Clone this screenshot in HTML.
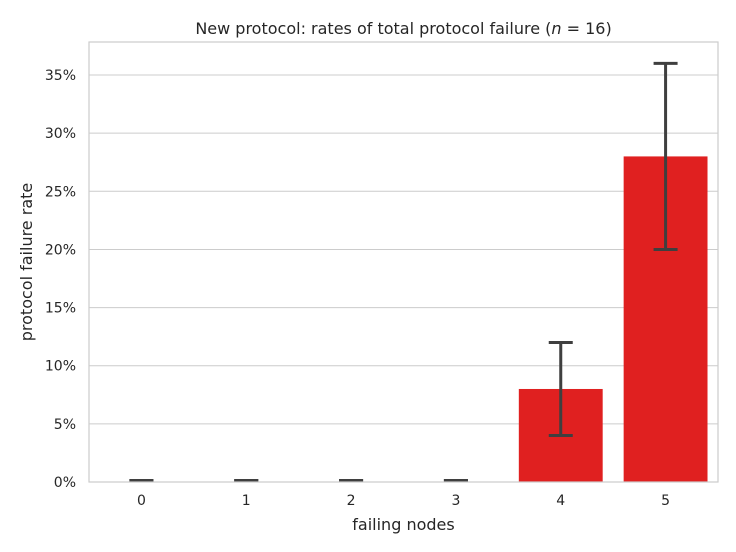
<!DOCTYPE html>
<html><head><meta charset="utf-8"><style>
body{margin:0;background:#fff;}
svg{display:block;font-family:"DejaVu Sans","Liberation Sans",sans-serif;}
</style></head><body>
<svg id="c" width="736" height="552" viewBox="0 0 736 552"></svg>
<script>
const categories=["0","1","2","3","4","5"];
const values=[0,0,0,0,8,28];
const errLow=[0,0,0,0,4,20];
const errHigh=[0,0,0,0,12,36];
const yTicks=[0,5,10,15,20,25,30,35];
const L=89,R=718,T=42,B=482,yMax=37.84;
const svg=document.getElementById('c');
const NS="http://www.w3.org/2000/svg";
const band=(R-L)/categories.length;
const x=i=>L+band*(i+0.5);
const y=v=>B-(B-T)*v/yMax;
function mk(tag,attrs,parent){const e=document.createElementNS(NS,tag);for(const k in attrs)e.setAttribute(k,attrs[k]);(parent||svg).appendChild(e);return e;}
yTicks.forEach(t=>{
 const g=mk('line',{x1:L,x2:R,y1:y(t),y2:y(t),stroke:'#cccccc','stroke-width':1});
 
 
 const tx=mk('text',{x:L-13,y:y(t)+5,'text-anchor':'end','font-size':14,fill:'#262626'});
 tx.textContent=t+'%';
 
 
});
categories.forEach((c,i)=>{
 const w=band*0.8;
 if(values[i]>0){
  const r=mk('rect',{x:x(i)-w/2,y:y(values[i]),width:w,height:B-y(values[i]),fill:'#e02020'});
  
  
 }
 const eb=mk('g',{stroke:'#3f3f3f','stroke-width':3,'stroke-linecap':'butt'});
 
 
 const yl=Math.min(y(errLow[i]),B-1.5),yh=Math.min(y(errHigh[i]),B-1.5);
 mk('line',{x1:x(i),x2:x(i),y1:yl,y2:yh},eb);
 mk('line',{x1:x(i)-12,x2:x(i)+12,y1:yl,y2:yl},eb);
 mk('line',{x1:x(i)-12,x2:x(i)+12,y1:yh,y2:yh},eb);
 const tx=mk('text',{x:x(i),y:B+23,'text-anchor':'middle','font-size':14,fill:'#262626'});
 tx.textContent=c;
 
 
});
const fr=mk('rect',{x:L,y:T,width:R-L,height:B-T,fill:'none',stroke:'#cccccc','stroke-width':1.2});


const xt=mk('text',{x:(L+R)/2,y:530,'text-anchor':'middle','font-size':16,fill:'#262626'});
xt.textContent='failing nodes';


const yt=mk('text',{x:0,y:0,'text-anchor':'middle','font-size':16,fill:'#262626',transform:'translate(32,'+((T+B)/2)+') rotate(-90)'});
yt.textContent='protocol failure rate';


const ti=mk('text',{x:(L+R)/2,y:34,'text-anchor':'middle','font-size':16,fill:'#262626'});
ti.innerHTML='New protocol: rates of total protocol failure (<tspan font-style="italic">n</tspan> = 16)';


</script>
</body></html>
